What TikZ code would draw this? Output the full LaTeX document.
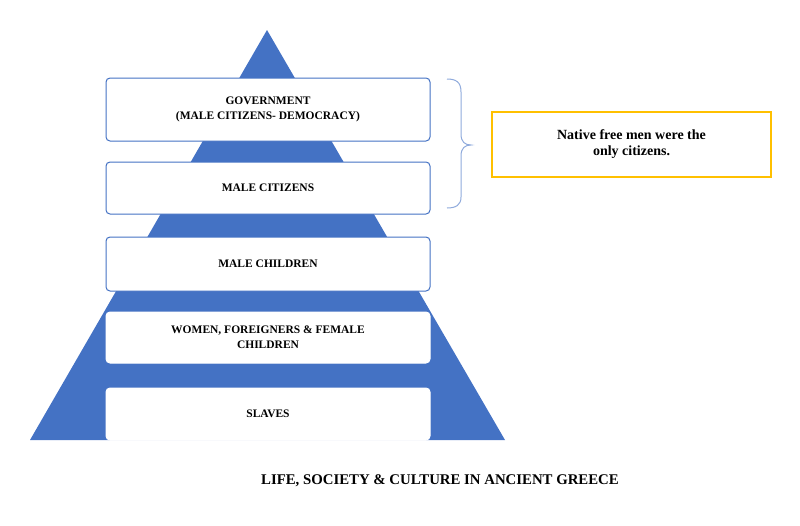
\documentclass[tikz,border=0pt]{standalone}
\usepackage{fontspec}
\setmainfont{Liberation Serif}[BoldFont={Liberation Serif Bold}]
\newfontfamily\tnr{Liberation Serif Bold}
\definecolor{pyr}{HTML}{4472C4}
\definecolor{brc}{HTML}{8FAADC}
\definecolor{ylw}{HTML}{FFC000}
\tikzset{
  tier/.style={draw=pyr, line width=1pt, fill=white, rounded corners=4pt, minimum width=324pt, align=center, inner sep=0pt, font=\tnr\fontsize{11.5}{15}\selectfont},
  tierlow/.style={tier, draw=white},
  note/.style={draw=ylw, line width=1.2pt, fill=white, minimum width=279pt, minimum height=65pt, align=center, inner sep=0pt, font=\tnr\fontsize{14}{16}\selectfont},
  title/.style={font=\tnr\fontsize{14.8}{17}\selectfont, inner sep=0pt}
}
\begin{document}
\begin{tikzpicture}[x=1pt,y=-1pt]
\useasboundingbox (0,0) rectangle (800,525);
\fill[pyr] (267,30) -- (505,440) -- (30,440) -- cycle;
\node[tier, minimum height=63pt] (gov) at (268,109.5) {GOVERNMENT\\(MALE CITIZENS- DEMOCRACY)};
\node[tier, minimum height=52pt] (cit) at (268,188) {MALE CITIZENS};
\node[tier, minimum height=54pt] (kid) at (268,264) {MALE CHILDREN};
\node[tierlow, minimum height=51pt] (wom) at (268,337.5) {WOMEN, FOREIGNERS \& FEMALE\\CHILDREN};
\node[tierlow, minimum height=52pt] (slv) at (268,414) {SLAVES};
\draw[brc, line width=1pt] (447,79) .. controls (456,79) and (461,82) .. (461,92) -- (461,134) .. controls (461,142) and (465,145) .. (471,145) .. controls (465,145) and (461,148) .. (461,156) -- (461,197) .. controls (461,205) and (456,208) .. (447,208);
\node[note] (nt) at (631.5,144.5) {Native free men were the\\only citizens.};
\node[title] (ttl) at (440,481) {LIFE, SOCIETY \& CULTURE IN ANCIENT GREECE};
\end{tikzpicture}
\end{document}
